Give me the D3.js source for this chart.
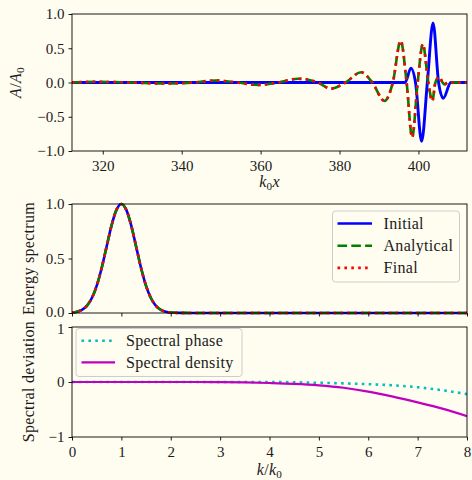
<!DOCTYPE html>
<html><head><meta charset="utf-8">
<script src="https://cdn.jsdelivr.net/npm/d3@7"></script>
<style>html,body{margin:0;padding:0;background:#fffdf0;overflow:hidden}</style>
</head><body>
<svg id="c" width="472" height="480"></svg>
<script>
// ---------------- data ----------------
const waveXTicks = [320, 340, 360, 380, 400];
const waveYTicks = [-1, -0.5, 0, 0.5, 1];
const specYTicks = [0, 0.5, 1];
const devYTicks = [-1, 0, 1];
const kTicks = [0, 1, 2, 3, 4, 5, 6, 7, 8];

// top panel: [k0 x, A/A0]
const initialWave = [[312.2,0],[396.6,0],[398.1,0.21],[399.25,0],[400.8,-0.86],[402.25,0],
  [403.7,0.87],[405.1,0],[406.3,-0.23],[408.2,0],[412.3,0]];
const analyticalWave = [[312.2,0],[318,0.01],[327,0],[336,-0.015],[343,0],[348.5,0.03],[354,0],
  [359.4,-0.035],[364.5,0],[369.5,0.055],[374.5,0],[377.8,-0.09],[381.5,0],[385.5,0.15],[388.3,0],
  [391.4,-0.27],[393.5,0],[395.5,0.61],[397,0],[398.4,-0.8],[399.8,0],[401.1,0.56],[402.5,0],
  [403.5,-0.27],[404.3,0],[405.3,0.08],[406.1,0],[406.6,-0.03],[407.4,0],[412.3,0]];
const finalWave = [[312.2,0],[318,0.01],[327,0],[336,-0.015],[343,0],[348.5,0.03],[354,0],
  [359.4,-0.035],[364.5,0],[369.5,0.055],[374.5,0],[377.8,-0.09],[381.5,0],[385.5,0.15],[388.3,0],
  [391.4,-0.27],[393.5,0],[395.5,0.61],[397,0],[398.4,-0.8],[399.8,0],[401.1,0.56],[402.5,0],
  [403.5,-0.27],[404.3,0],[405.3,0.08],[406.1,0],[406.6,-0.03],[407.4,0],[412.3,0]];

// middle panel
const specK = [0,0.1,0.2,0.3,0.4,0.5,0.6,0.7,0.8,0.9,1.0,1.1,1.2,1.3,1.4,1.5,1.6,1.7,1.8,1.9,2.0,2.2,2.5,3,4,5,6,7,8];
const specInitial    = [0.004,0.011,0.029,0.066,0.135,0.249,0.411,0.607,0.801,0.946,1.0,0.946,0.801,0.607,0.411,0.249,0.135,0.066,0.029,0.011,0.004,0.001,0,0,0,0,0,0,0];
const specAnalytical = [0.004,0.011,0.029,0.066,0.135,0.249,0.411,0.607,0.801,0.946,1.0,0.946,0.801,0.607,0.411,0.249,0.135,0.066,0.029,0.011,0.004,0.001,0,0,0,0,0,0,0];
const specFinal      = [0.004,0.011,0.029,0.066,0.135,0.249,0.411,0.607,0.801,0.946,1.0,0.946,0.801,0.607,0.411,0.249,0.135,0.066,0.029,0.011,0.004,0.001,0,0,0,0,0,0,0];

// bottom panel
const devK = [0,0.5,1,1.5,2,2.5,3,3.5,4,4.5,5,5.5,6,6.5,7,7.5,8];
const phaseDev   = [0,0,0,0,0,0,0,0,0,-0.005,-0.015,-0.025,-0.04,-0.06,-0.095,-0.15,-0.22];
const densityDev = [0,0,0,0,0,0,-0.003,-0.008,-0.018,-0.033,-0.06,-0.105,-0.175,-0.265,-0.37,-0.485,-0.62];

// ---------------- drawing ----------------
const svg = d3.select('#c');
const FONT = '"Liberation Serif", "DejaVu Serif", serif';
const FS = 15;      // tick labels
const FL = 16;      // legend / axis labels
const LS = 0.3;     // letter spacing for wider CM-like text
const TXT = '#1a1a1a';
svg.append('rect').attr('width',472).attr('height',480).attr('fill','#fffdf0');

const L = 72, R = 467;
const panels = {
  top: {t:14, b:151},
  mid: {t:204, b:313},
  bot: {t:327, b:437}
};

function fmt1(v){ return (v<0?'\u2212':'') + Math.abs(v).toFixed(1); }
function fmt0(v){ return (v<0?'\u2212':'') + Math.abs(v).toFixed(0); }

function makeAxes(name, xDomain, yDomain, xTicks, yTicks, yFmt, showXLabels){
  const p = panels[name];
  const x = d3.scaleLinear().domain(xDomain).range([L, R]);
  const y = d3.scaleLinear().domain(yDomain).range([p.b, p.t]);
  const g = svg.append('g');
  const cid = 'clip-' + name;
  svg.append('defs').append('clipPath').attr('id', cid)
    .append('rect').attr('x', L).attr('y', p.t - 2).attr('width', R - L).attr('height', p.b - p.t + 4);
  const plot = g.append('g').attr('clip-path', `url(#${cid})`);
  const xa = d3.axisBottom(x).tickValues(xTicks).tickSize(3.5).tickPadding(5)
    .tickFormat(showXLabels ? (d => d3.format('d')(d)) : () => '');
  const gx = g.append('g').attr('transform', `translate(0,${p.b})`).call(xa);
  const ya = d3.axisLeft(y).tickValues(yTicks).tickSize(3.5).tickPadding(4).tickFormat(yFmt);
  const gy = g.append('g').attr('transform', `translate(${L},0)`).call(ya);
  [gx, gy].forEach(a => {
    a.select('.domain').remove();
    a.selectAll('line').attr('stroke', '#000').attr('stroke-width', 0.9);
    a.selectAll('text').attr('font-family', FONT).attr('font-size', FS).attr('fill', TXT);
  });
  gx.selectAll('text').attr('dy', '0.78em');
  const frame = g.append('rect').attr('x', L).attr('y', p.t).attr('width', R - L).attr('height', p.b - p.t)
    .attr('fill', 'none').attr('stroke', '#000').attr('stroke-width', 0.9);
  return {x, y, plot, g, gy, frame};
}

const LW = 2.6;
function drawLine(ax, data, color, dash, lw){
  const line = d3.line().x(d => ax.x(d[0])).y(d => ax.y(d[1])).curve(d3.curveMonotoneX);
  const path = ax.plot.append('path').datum(data).attr('d', line)
    .attr('fill', 'none').attr('stroke', color).attr('stroke-width', lw || LW)
    .attr('stroke-linejoin', 'round').attr('stroke-linecap', 'butt');
  if (dash) path.attr('stroke-dasharray', dash);
  return path;
}
const DASH = '9.6,4.2';
const DOT = '2.6,4.3';
const zip = (a, b) => a.map((v, i) => [v, b[i]]);

// ---- top panel ----
const axTop = makeAxes('top', [312.2, 412.3], [-1, 1], waveXTicks, waveYTicks, fmt1, true);
drawLine(axTop, initialWave, '#0000ff', null, 2.9);
drawLine(axTop, analyticalWave, '#008000', DASH);
drawLine(axTop, finalWave, '#ff0000', DOT);
axTop.frame.raise();

// ---- middle panel ----
const axMid = makeAxes('mid', [0, 8], [0, 1], kTicks, specYTicks, fmt1, false);
drawLine(axMid, zip(specK, specInitial), '#0000ff', null);
drawLine(axMid, zip(specK, specAnalytical), '#008000', DASH);
drawLine(axMid, zip(specK, specFinal), '#ff0000', DOT);
axMid.frame.raise();
// keep the adjacent tick labels of the two stacked panels apart
axMid.gy.selectAll('.tick').filter(d => d === 0).select('text').attr('dy', '0.22em');

// ---- bottom panel ----
const axBot = makeAxes('bot', [0, 8], [-1, 1], kTicks, devYTicks, fmt0, true);
drawLine(axBot, zip(devK, phaseDev), '#00bfbf', DOT);
drawLine(axBot, zip(devK, densityDev), '#bf00bf', null, 2.2);
axBot.frame.raise();
axBot.gy.selectAll('.tick').filter(d => d === 1).select('text').attr('dy', '0.46em');

// ---- legends ----
function legend(box, entries){
  const g = svg.append('g');
  g.append('rect').attr('x', box.x).attr('y', box.y).attr('width', box.w).attr('height', box.h)
    .attr('rx', 3).attr('ry', 3).attr('fill', '#fffdf0').attr('fill-opacity', 0.8)
    .attr('stroke', '#cccccc').attr('stroke-width', 1);
  entries.forEach((e, i) => {
    const yy = box.y + box.first + i * box.step;
    const ln = g.append('line').attr('x1', box.x + box.h1).attr('x2', box.x + box.h2)
      .attr('y1', yy).attr('y2', yy).attr('stroke', e.color).attr('stroke-width', e.lw || LW);
    if (e.dash) ln.attr('stroke-dasharray', e.dash);
    g.append('text').attr('x', box.x + box.tx).attr('y', yy).attr('dy', '0.34em')
      .attr('font-family', FONT).attr('font-size', FL).attr('letter-spacing', LS)
      .attr('fill', TXT).text(e.label);
  });
}
legend({x: 332.5, y: 211, w: 127, h: 71, first: 12.5, step: 22.2, h1: 5, h2: 39.5, tx: 51},
  [{label: 'Initial', color: '#0000ff'},
   {label: 'Analytical', color: '#008000', dash: DASH},
   {label: 'Final', color: '#ff0000', dash: DOT}]);
legend({x: 76, y: 328.5, w: 166, h: 48, first: 12.3, step: 21.6, h1: 5.5, h2: 39, tx: 50},
  [{label: 'Spectral phase', color: '#00bfbf', dash: DOT},
   {label: 'Spectral density', color: '#bf00bf', lw: 2.2}]);

// ---- axis labels ----
function mathText(sel, parts){
  parts.forEach(pt => {
    const ts = sel.append('tspan').text(pt.t);
    if (pt.i) ts.attr('font-style', 'italic');
    if (pt.sub) ts.attr('font-size', FL * 0.7).attr('dy', '0.25em');
    if (pt.up) ts.attr('dy', '-0.18em');
  });
}
function label(transform, x, y){
  return svg.append('text').attr('x', x).attr('y', y).attr('transform', transform)
    .attr('text-anchor', 'middle').attr('font-family', FONT).attr('font-size', FL)
    .attr('letter-spacing', LS).attr('fill', TXT);
}
mathText(label(null, 269.5, 187), [{t:'k', i:true}, {t:'0', sub:true}, {t:'x', i:true, up:true}]);
mathText(label(null, 269.5, 475), [{t:'k', i:true}, {t:'/'}, {t:'k', i:true}, {t:'0', sub:true}]);
mathText(label('translate(21,82.5) rotate(-90)', 0, 0), [{t:'A', i:true}, {t:'/'}, {t:'A', i:true}, {t:'0', sub:true}]);
label('translate(34,258.5) rotate(-90)', 0, 0).text('Energy spectrum');
label('translate(34,381.5) rotate(-90)', 0, 0).text('Spectral deviation');
</script>
</body></html>
